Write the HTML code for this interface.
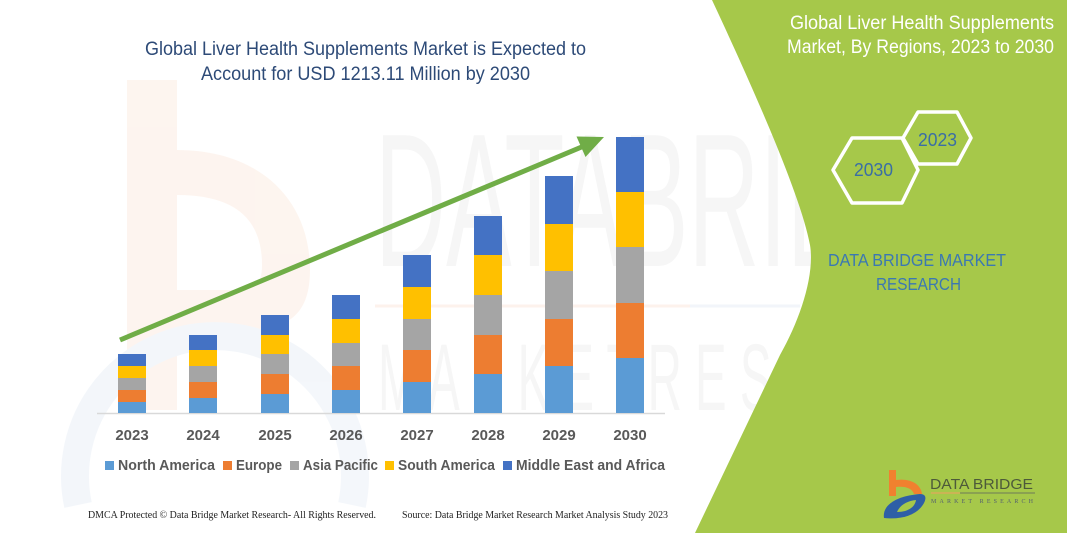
<!DOCTYPE html>
<html>
<head>
<meta charset="utf-8">
<style>
  html,body{margin:0;padding:0;background:#fff;width:1067px;height:533px;overflow:hidden;}
  svg{display:block;}
</style>
</head>
<body>
<svg width="1067" height="533" viewBox="0 0 1067 533" xmlns="http://www.w3.org/2000/svg">
  <rect x="0" y="0" width="1067" height="533" fill="#ffffff"/>

  <!-- faint watermark: orange b and blue ring -->
  <g opacity="0.4">
    <rect x="127" y="80" width="50" height="330" fill="#fbe6d8"/>
    <path d="M177,150 C260,150 310,200 310,270 C310,330 270,330 230,330 L177,330 L177,290 L230,290 C255,290 262,285 262,265 C262,215 230,195 177,195 Z" fill="#fbe6d8"/>
    <path d="M78,505 A140,140 0 1 1 352,505" fill="none" stroke="#e3ebf5" stroke-width="28"/>
  </g>
  <!-- faint watermark: DATA BRIDGE text -->
  <g fill="#f6f6f6">
    <text x="375" y="266" font-family="Liberation Sans, sans-serif" font-size="190" textLength="625" lengthAdjust="spacingAndGlyphs">DATABRIDGE</text>
    <text x="378" y="410" font-family="Liberation Sans, sans-serif" font-size="95" textLength="620" lengthAdjust="spacingAndGlyphs">M A R K E T R E S E A R C H</text>
  </g>
  <line x1="375" y1="306" x2="690" y2="306" stroke="#fdf2ec" stroke-width="3"/>
  <line x1="690" y1="306" x2="800" y2="306" stroke="#f2f5fa" stroke-width="3"/>

  <!-- green right panel -->
  <path d="M712,0 C740,60 800,190 810,245 C815,275 800,320 780,355 L695,533 L1067,533 L1067,0 Z" fill="#a6c84a"/>

  <!-- chart title -->
  <g font-family="Liberation Sans, sans-serif" fill="#2d4a77" font-size="19">
    <text x="145" y="55" textLength="441" lengthAdjust="spacingAndGlyphs">Global Liver Health Supplements Market is Expected to</text>
    <text x="201" y="80" textLength="329" lengthAdjust="spacingAndGlyphs">Account for USD 1213.11 Million by 2030</text>
  </g>

  <!-- axis line -->
  <line x1="97" y1="413.5" x2="665" y2="413.5" stroke="#d9d9d9" stroke-width="1.5"/>

  <!-- bars -->
  <g>
    <!-- 2023 -->
    <rect x="118" y="354" width="28" height="12" fill="#4472c4"/>
    <rect x="118" y="366" width="28" height="12" fill="#ffc000"/>
    <rect x="118" y="378" width="28" height="12" fill="#a5a5a5"/>
    <rect x="118" y="390" width="28" height="12" fill="#ed7d31"/>
    <rect x="118" y="402" width="28" height="11" fill="#5b9bd5"/>
    <!-- 2024 -->
    <rect x="189" y="335" width="28" height="15" fill="#4472c4"/>
    <rect x="189" y="350" width="28" height="16" fill="#ffc000"/>
    <rect x="189" y="366" width="28" height="16" fill="#a5a5a5"/>
    <rect x="189" y="382" width="28" height="16" fill="#ed7d31"/>
    <rect x="189" y="398" width="28" height="15" fill="#5b9bd5"/>
    <!-- 2025 -->
    <rect x="261" y="315" width="28" height="20" fill="#4472c4"/>
    <rect x="261" y="335" width="28" height="19" fill="#ffc000"/>
    <rect x="261" y="354" width="28" height="20" fill="#a5a5a5"/>
    <rect x="261" y="374" width="28" height="20" fill="#ed7d31"/>
    <rect x="261" y="394" width="28" height="19" fill="#5b9bd5"/>
    <!-- 2026 -->
    <rect x="332" y="295" width="28" height="24" fill="#4472c4"/>
    <rect x="332" y="319" width="28" height="24" fill="#ffc000"/>
    <rect x="332" y="343" width="28" height="23" fill="#a5a5a5"/>
    <rect x="332" y="366" width="28" height="24" fill="#ed7d31"/>
    <rect x="332" y="390" width="28" height="23" fill="#5b9bd5"/>
    <!-- 2027 -->
    <rect x="403" y="255" width="28" height="32" fill="#4472c4"/>
    <rect x="403" y="287" width="28" height="32" fill="#ffc000"/>
    <rect x="403" y="319" width="28" height="31" fill="#a5a5a5"/>
    <rect x="403" y="350" width="28" height="32" fill="#ed7d31"/>
    <rect x="403" y="382" width="28" height="31" fill="#5b9bd5"/>
    <!-- 2028 -->
    <rect x="474" y="216" width="28" height="39" fill="#4472c4"/>
    <rect x="474" y="255" width="28" height="40" fill="#ffc000"/>
    <rect x="474" y="295" width="28" height="40" fill="#a5a5a5"/>
    <rect x="474" y="335" width="28" height="39" fill="#ed7d31"/>
    <rect x="474" y="374" width="28" height="39" fill="#5b9bd5"/>
    <!-- 2029 -->
    <rect x="545" y="176" width="28" height="48" fill="#4472c4"/>
    <rect x="545" y="224" width="28" height="47" fill="#ffc000"/>
    <rect x="545" y="271" width="28" height="48" fill="#a5a5a5"/>
    <rect x="545" y="319" width="28" height="47" fill="#ed7d31"/>
    <rect x="545" y="366" width="28" height="47" fill="#5b9bd5"/>
    <!-- 2030 -->
    <rect x="616" y="137" width="28" height="55" fill="#4472c4"/>
    <rect x="616" y="192" width="28" height="55" fill="#ffc000"/>
    <rect x="616" y="247" width="28" height="56" fill="#a5a5a5"/>
    <rect x="616" y="303" width="28" height="55" fill="#ed7d31"/>
    <rect x="616" y="358" width="28" height="55" fill="#5b9bd5"/>
  </g>

  <!-- trend arrow -->
  <line x1="120" y1="340" x2="584" y2="146" stroke="#70ad47" stroke-width="5"/>
  <polygon points="604,137 576.5,136.5 585.5,157" fill="#70ad47"/>

  <!-- year labels -->
  <g font-family="Liberation Sans, sans-serif" font-weight="bold" font-size="15" fill="#595959" text-anchor="middle">
    <text x="132" y="440">2023</text>
    <text x="203" y="440">2024</text>
    <text x="275" y="440">2025</text>
    <text x="346" y="440">2026</text>
    <text x="417" y="440">2027</text>
    <text x="488" y="440">2028</text>
    <text x="559" y="440">2029</text>
    <text x="630" y="440">2030</text>
  </g>

  <!-- legend -->
  <g font-family="Liberation Sans, sans-serif" font-weight="bold" font-size="14.5" fill="#595959">
    <rect x="105" y="461" width="9" height="9" fill="#5b9bd5"/>
    <text x="118" y="470" textLength="97" lengthAdjust="spacingAndGlyphs">North America</text>
    <rect x="223" y="461" width="9" height="9" fill="#ed7d31"/>
    <text x="236" y="470" textLength="46" lengthAdjust="spacingAndGlyphs">Europe</text>
    <rect x="290" y="461" width="9" height="9" fill="#a5a5a5"/>
    <text x="303" y="470" textLength="75" lengthAdjust="spacingAndGlyphs">Asia Pacific</text>
    <rect x="385" y="461" width="9" height="9" fill="#ffc000"/>
    <text x="398" y="470" textLength="97" lengthAdjust="spacingAndGlyphs">South America</text>
    <rect x="503" y="461" width="9" height="9" fill="#4472c4"/>
    <text x="516" y="470" textLength="149" lengthAdjust="spacingAndGlyphs">Middle East and Africa</text>
  </g>

  <!-- footer -->
  <g font-family="Liberation Serif, serif" font-size="10" fill="#222">
    <text x="88" y="518" textLength="288" lengthAdjust="spacingAndGlyphs">DMCA Protected © Data Bridge Market Research-  All Rights Reserved.</text>
    <text x="402" y="518" textLength="266" lengthAdjust="spacingAndGlyphs">Source: Data Bridge Market Research  Market Analysis Study 2023</text>
  </g>

  <!-- right panel title -->
  <g font-family="Liberation Sans, sans-serif" font-size="19" fill="#ffffff">
    <text x="790" y="29" textLength="264" lengthAdjust="spacingAndGlyphs">Global Liver Health Supplements</text>
    <text x="787" y="53" textLength="267" lengthAdjust="spacingAndGlyphs">Market, By Regions, 2023 to 2030</text>
  </g>

  <!-- hexagons -->
  <g fill="none" stroke="#ffffff" stroke-width="3.5" stroke-linejoin="round">
    <polygon points="903,138 918,112 957,112 971,138 957,164 918,164"/>
    <polygon points="833,170 852,138 902,138 918,170 902,203 852,203"/>
  </g>
  <g font-family="Liberation Sans, sans-serif" font-size="18" fill="#3a6ea5">
    <text x="918" y="146" textLength="39" lengthAdjust="spacingAndGlyphs">2023</text>
    <text x="854" y="176" textLength="39" lengthAdjust="spacingAndGlyphs">2030</text>
  </g>

  <!-- DATA BRIDGE MARKET RESEARCH -->
  <g font-family="Liberation Sans, sans-serif" font-size="17.5" fill="#3b78b2">
    <text x="828" y="266" textLength="178" lengthAdjust="spacingAndGlyphs">DATA BRIDGE MARKET</text>
    <text x="876" y="290" textLength="85" lengthAdjust="spacingAndGlyphs">RESEARCH</text>
  </g>

  <!-- logo -->
  <g>
    <rect x="889" y="470" width="7" height="26" fill="#f0812f"/>
    <path d="M896,480 C910,478 921,484 922,494 L914,494 C912,488 905,486 896,487 Z" fill="#f0812f"/>
    <path d="M884,518 C882,506 895,496 920,494 C925,494 927,497 924,503 C918,514 904,520 884,518 Z" fill="#2e5fa6"/>
    <path d="M897,512 C900,505 907,501 916,500 C915,507 908,512 897,512 Z" fill="#a6c84a"/>
    <text x="930" y="489" font-family="Liberation Sans, sans-serif" font-size="15" fill="#4d5a3a" textLength="103" lengthAdjust="spacingAndGlyphs">DATA BRIDGE</text>
    <line x1="931" y1="493" x2="960" y2="493" stroke="#f0a060" stroke-width="1"/>
    <line x1="960" y1="493" x2="1035" y2="493" stroke="#6d7a58" stroke-width="1"/>
    <text x="931" y="503" font-family="Liberation Serif, serif" font-size="6" fill="#556070" textLength="102" lengthAdjust="spacing">MARKET  RESEARCH</text>
  </g>
</svg>
</body>
</html>
